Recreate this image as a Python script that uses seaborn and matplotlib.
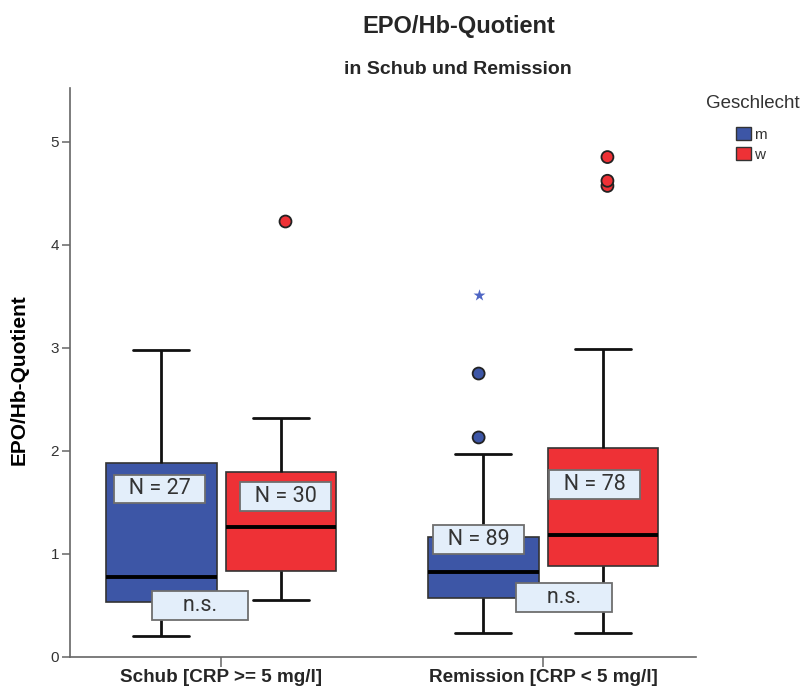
import numpy as np
import pandas as pd
import matplotlib
matplotlib.use("Agg")
import matplotlib.pyplot as plt
from matplotlib.patches import Patch
import seaborn as sns

# ---------------- data ----------------
groups = ["Schub [CRP >= 5 mg/l]", "Remission [CRP < 5 mg/l]"]
sexes = ["m", "w"]
n_labels = ["N = 27", "N = 30", "N = 89", "N = 78"]
sig_labels = ["n.s.", "n.s."]

# five-number summaries: lower whisker, Q1, median, Q3, upper whisker
schub_m = [0.20, 0.53, 0.78, 1.88, 2.98]
schub_w = [0.55, 0.83, 1.26, 1.79, 2.32]
rem_m = [0.23, 0.57, 0.82, 1.165, 1.97]
rem_w = [0.23, 0.88, 1.18, 2.03, 2.99]

# outliers (circles) and extreme values (stars)
out_schub_m = []
out_schub_w = [4.23]
out_rem_m = [2.13, 2.75]
out_rem_w = [4.57, 4.62, 4.85]
extreme_rem_m = [3.51]

# ---------------- frames ----------------
box_rows = []
for g, s, vals in [(groups[0], "m", schub_m), (groups[0], "w", schub_w),
                   (groups[1], "m", rem_m), (groups[1], "w", rem_w)]:
    for v in vals:
        box_rows.append((g, s, v))
df_box = pd.DataFrame(box_rows, columns=["Gruppe", "Geschlecht", "Wert"])

out_rows = []
for g, s, vals in [(groups[0], "m", out_schub_m), (groups[0], "w", out_schub_w),
                   (groups[1], "m", out_rem_m), (groups[1], "w", out_rem_w)]:
    for v in vals:
        out_rows.append((g, s, v))
df_out = pd.DataFrame(out_rows, columns=["Gruppe", "Geschlecht", "Wert"])
df_ext = pd.DataFrame([(groups[1], "m", v) for v in extreme_rem_m],
                      columns=["Gruppe", "Geschlecht", "Wert"])

# ---------------- style ----------------
sns.set_style("white")
plt.rcParams["font.family"] = ["Liberation Sans", "DejaVu Sans"]

blue = "#3D56A6"
red = "#EE3136"
star_blue = "#4F66C4"
palette = {"m": blue, "w": red}
edge = "#333333"

fig = plt.figure(figsize=(8.04, 6.92), dpi=100)
ax = fig.add_axes([70 / 804, 35 / 692, 626 / 804, 569 / 692])

sns.boxplot(data=df_box, x="Gruppe", y="Wert", hue="Geschlecht",
            order=groups, hue_order=sexes, palette=palette, saturation=1,
            width=0.744, gap=0.075, whis=(0, 100), fliersize=0,
            legend=False, ax=ax,
            boxprops=dict(edgecolor=edge, linewidth=1.2),
            whiskerprops=dict(color="#111111", linewidth=2.0),
            capprops=dict(color="#111111", linewidth=2.0),
            medianprops=dict(color="black", linewidth=2.8))

sns.stripplot(data=df_out, x="Gruppe", y="Wert", hue="Geschlecht",
              order=groups, hue_order=sexes, palette=palette,
              dodge=True, jitter=False, size=8.6, linewidth=1.3,
              edgecolor="#222222", legend=False, ax=ax, zorder=5)

sns.stripplot(data=df_ext, x="Gruppe", y="Wert", hue="Geschlecht",
              order=groups, hue_order=sexes, palette={"m": star_blue, "w": red},
              dodge=True, jitter=False, size=9, marker="*", linewidth=0,
              legend=False, ax=ax, zorder=5)

ax.set_xlim(-0.469, 1.475)
ax.set_ylim(0, 5.52)
ax.set_yticks([0, 1, 2, 3, 4, 5])
ax.set_xlabel("")
ax.set_ylabel("EPO/Hb-Quotient", fontsize=15, fontweight="bold",
              color="black")
ax.yaxis.set_label_coords(-0.066, 0.487)

for sp in ["top", "right"]:
    ax.spines[sp].set_visible(False)
for sp in ["left", "bottom"]:
    ax.spines[sp].set_color("#666666")
    ax.spines[sp].set_linewidth(1.2)

ax.tick_params(axis="y", length=6, width=1.1, color="#666666",
               labelsize=11, labelcolor="#333333", pad=2, left=True)
ax.tick_params(axis="x", length=7, width=1.1, color="#666666", pad=2,
               bottom=True)
ax.set_xticks(range(len(groups)))
ax.set_xticklabels(groups, fontweight="bold", fontsize=13.6,
                   family=["Liberation Sans", "DejaVu Sans"])

# N labels and significance labels
lab_box = dict(boxstyle="square,pad=0.18", fc="#E3EEFA", ec="#6E6E6E", lw=1.3)
n_pos = [(-0.19, 1.63), (0.20, 1.56), (0.80, 1.14), (1.16, 1.67)]
for (x, y), t in zip(n_pos, n_labels):
    ax.text(x, y, "  " + t + "  ", fontsize=15.5, family=["Roboto", "DejaVu Sans"],
            color="#333333", ha="center", va="center", bbox=lab_box, zorder=6)
sig_pos = [(-0.065, 0.50), (1.065, 0.58)]
for (x, y), t in zip(sig_pos, sig_labels):
    ax.text(x, y, "     " + t + "     ", fontsize=15.5,
            family=["Roboto", "DejaVu Sans"], color="#333333",
            ha="center", va="center", bbox=lab_box, zorder=6)

# titles
fig.text(459 / 804, 1 - 27 / 692, "EPO/Hb-Quotient", ha="center",
         va="center", fontsize=17, fontweight="bold")
fig.text(458 / 804, 1 - 69 / 692, "in Schub und Remission", ha="center",
         va="center", fontsize=14, fontweight="bold")

# legend
fig.text(753 / 804, 1 - 104 / 692, "Geschlecht", ha="center", va="center",
         fontsize=13.5, color="#333333")
handles = [Patch(facecolor=palette[s], edgecolor="#333333", linewidth=1.0)
           for s in sexes]
leg = fig.legend(handles, sexes, loc="upper left",
                 bbox_to_anchor=(736 / 804, 1 - 127 / 692), frameon=False,
                 fontsize=11, handlelength=0.95,
                 handleheight=0.95, handletextpad=0.2, labelspacing=0.35,
                 borderpad=0, borderaxespad=0)
for t in leg.get_texts():
    t.set_color("#333333")

fig.savefig("out.png", dpi=100)
